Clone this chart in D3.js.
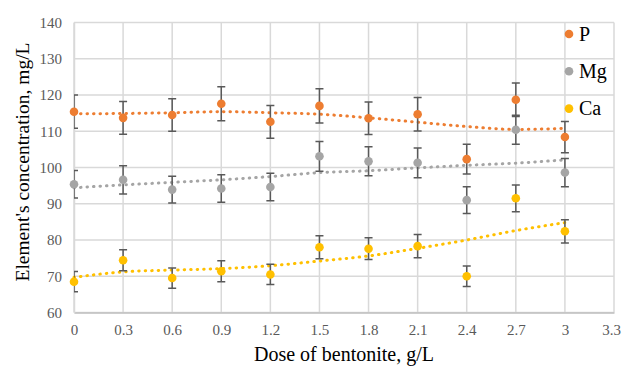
<!DOCTYPE html>
<html>
<head>
<meta charset="utf-8">
<script src="https://cdn.jsdelivr.net/npm/d3@7"></script>
<style>
  body { margin: 0; background: #fff; }
  svg text { font-family: "Liberation Serif", "DejaVu Serif", serif; }
</style>
</head>
<body>
<div id="chart"></div>
<script>
// dose of bentonite, g/L
const doses = [0, 0.3, 0.6, 0.9, 1.2, 1.5, 1.8, 2.1, 2.4, 2.7, 3];
const xTicks = [0, 0.3, 0.6, 0.9, 1.2, 1.5, 1.8, 2.1, 2.4, 2.7, 3, 3.3];
const yTicks = [60, 70, 80, 90, 100, 110, 120, 130, 140];

// measured values
const pValues = [115.4, 113.7, 114.5, 117.6, 112.6, 117.0, 113.6, 114.7, 102.3, 118.7, 108.4];
const pErrors = [4.6, 4.5, 4.5, 4.7, 4.5, 4.7, 4.5, 4.6, 4.1, 4.6, 4.3];
const mgValues = [95.4, 96.6, 93.9, 94.2, 94.6, 103.1, 101.7, 101.3, 91.0, 110.4, 98.6];
const mgErrors = [3.8, 3.9, 3.7, 3.8, 3.8, 4.1, 4.0, 4.1, 3.7, 4.0, 3.9];
const caValues = [68.5, 74.4, 69.5, 71.4, 70.5, 78.0, 77.6, 78.3, 70.0, 91.5, 82.4];
const caErrors = [2.8, 2.9, 2.8, 2.9, 2.8, 3.2, 3.0, 3.2, 2.8, 3.7, 3.2];

// dotted trend lines, read at each dose
const pTrend = [114.8, 114.9, 115.1, 115.4, 115.1, 114.7, 113.7, 112.5, 111.3, 110.5, 110.8];
const mgTrend = [94.4, 95.2, 95.9, 96.6, 97.5, 98.6, 99.1, 99.9, 100.6, 101.2, 102.1];
const caTrend = [69.7, 71.2, 71.7, 72.1, 72.9, 74.2, 75.6, 77.7, 80.0, 82.6, 84.8];

const seriesNames = ["P", "Mg", "Ca"];
const seriesColors = ["#ed7d31", "#a5a5a5", "#ffc000"];

const width = 622, height = 368;
const margin = {top: 22.5, right: 8, bottom: 55.5, left: 74};
const plotW = width - margin.left - margin.right;
const plotH = height - margin.top - margin.bottom;

const svg = d3.select("#chart").append("svg")
  .attr("width", width)
  .attr("height", height);

const x = d3.scaleLinear().domain([0, 3.3]).range([0, plotW]);
const y = d3.scaleLinear().domain([60, 140]).range([plotH, 0]);

const g = svg.append("g")
  .attr("transform", "translate(" + margin.left + "," + margin.top + ")");

svg.append("defs").append("clipPath").attr("id", "plotClip")
  .append("rect").attr("width", plotW).attr("height", plotH);

// grid
g.append("g").selectAll("line").data(yTicks).join("line")
  .attr("x1", 0).attr("x2", plotW)
  .attr("y1", d => y(d)).attr("y2", d => y(d))
  .attr("stroke", "#d9d9d9").attr("stroke-width", 1.5);
g.append("g").selectAll("line").data(xTicks).join("line")
  .attr("x1", d => x(d)).attr("x2", d => x(d))
  .attr("y1", 0).attr("y2", plotH)
  .attr("stroke", "#d9d9d9").attr("stroke-width", 1.5);

// bottom axis
const xAxis = g.append("g")
  .attr("transform", "translate(0," + plotH + ")")
  .call(d3.axisBottom(x).tickValues(xTicks).tickSize(0).tickPadding(12).tickFormat(d3.format("")));
xAxis.select(".domain").attr("stroke", "#bfbfbf").attr("stroke-width", 1.5);
xAxis.selectAll("text").attr("fill", "#595959").attr("font-size", 15)
  .style("font-family", "Liberation Serif, serif");
// last label sits against the right edge
xAxis.selectAll(".tick text").filter(d => d === 3.3).attr("dx", -3);

// left axis
const yAxis = g.append("g")
  .call(d3.axisLeft(y).tickValues(yTicks).tickSize(0).tickPadding(12));
yAxis.select(".domain").attr("stroke", "#d9d9d9").attr("stroke-width", 1.5);
yAxis.selectAll("text").attr("fill", "#595959").attr("font-size", 15)
  .style("font-family", "Liberation Serif, serif");

// axis titles
svg.append("text")
  .attr("x", 344)
  .attr("y", 361)
  .attr("text-anchor", "middle")
  .attr("font-size", 20)
  .attr("fill", "#000")
  .text("Dose of bentonite, g/L");

svg.append("text")
  .attr("transform", "translate(29,162) rotate(-90)")
  .attr("text-anchor", "middle")
  .attr("font-size", 19.5)
  .attr("fill", "#000")
  .text("Element's concentration, mg/L");

const line = d3.line()
  .x((d, i) => x(doses[i]))
  .y(d => y(d))
  .curve(d3.curveMonotoneX);

const series = [
  {values: pValues, errors: pErrors, trend: pTrend},
  {values: mgValues, errors: mgErrors, trend: mgTrend},
  {values: caValues, errors: caErrors, trend: caTrend}
];

// trend lines
series.forEach((s, k) => {
  g.append("path")
    .datum(s.trend)
    .attr("fill", "none")
    .attr("stroke", seriesColors[k])
    .attr("stroke-width", 3)
    .attr("stroke-linecap", "round")
    .attr("stroke-dasharray", "0.5,6")
    .attr("d", line);
});

// error bars
const errG = g.append("g").attr("clip-path", "url(#plotClip)");
series.forEach(s => {
  s.values.forEach((v, i) => {
    const cx = x(doses[i]);
    const top = y(v + s.errors[i]), bot = y(v - s.errors[i]);
    errG.append("line").attr("x1", cx).attr("x2", cx).attr("y1", top).attr("y2", bot)
      .attr("stroke", "#595959").attr("stroke-width", 1.5);
    [top, bot].forEach(yy => {
      errG.append("line").attr("x1", cx - 4).attr("x2", cx + 4).attr("y1", yy).attr("y2", yy)
        .attr("stroke", "#595959").attr("stroke-width", 1.5);
    });
  });
});

// markers
series.forEach((s, k) => {
  g.append("g").selectAll("circle").data(s.values).join("circle")
    .attr("cx", (d, i) => x(doses[i]))
    .attr("cy", d => y(d))
    .attr("r", 4.3)
    .attr("fill", seriesColors[k]);
});

// legend
const legend = svg.append("g").attr("transform", "translate(569,34)");
seriesNames.forEach((name, k) => {
  const row = legend.append("g").attr("transform", "translate(0," + (k * 37.3) + ")");
  row.append("circle").attr("r", 4.3).attr("fill", seriesColors[k]);
  row.append("text").attr("x", 10).attr("y", 6.5)
    .attr("font-size", 20).attr("fill", "#000").text(name);
});
</script>
</body>
</html>
